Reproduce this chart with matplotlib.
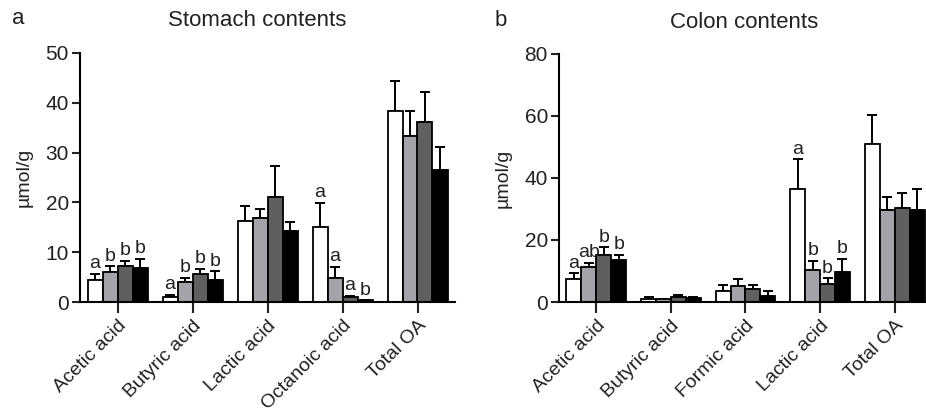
import numpy as np
import matplotlib.pyplot as plt

plt.rcParams['font.family'] = ['Liberation Sans', 'DejaVu Sans']

# Stomach contents
stomach_cats = ["Acetic acid", "Butyric acid", "Lactic acid", "Octanoic acid", "Total OA"]
stomach_mean = [
    [4.5, 1.1, 16.2, 15.0, 38.3],
    [6.0, 4.1, 16.9, 4.9, 33.4],
    [7.2, 5.7, 21.1, 1.1, 36.2],
    [6.8, 4.5, 14.3, 0.4, 26.5],
]
stomach_top = [
    [5.7, 1.5, 19.2, 19.9, 44.4],
    [7.2, 4.9, 18.7, 7.1, 38.3],
    [8.3, 6.7, 27.4, 1.3, 42.1],
    [8.7, 6.2, 16.1, 0.4, 31.2],
]
stomach_letters = [
    ["a", "a", "", "a", ""],
    ["b", "b", "", "a", ""],
    ["b", "b", "", "a", ""],
    ["b", "b", "", "b", ""],
]

# Colon contents
colon_cats = ["Acetic acid", "Butyric acid", "Formic acid", "Lactic acid", "Total OA"]
colon_mean = [
    [7.3, 1.0, 3.5, 36.3, 51.0],
    [11.4, 1.0, 5.3, 10.2, 29.6],
    [15.2, 1.7, 4.2, 5.8, 30.3],
    [13.4, 1.3, 1.9, 9.8, 29.7],
]
colon_top = [
    [9.2, 1.6, 5.4, 46.0, 60.2],
    [12.7, 1.0, 7.3, 13.3, 33.8],
    [17.6, 2.4, 5.4, 7.6, 35.1],
    [15.3, 1.7, 3.7, 13.9, 36.5],
]
colon_letters = [
    ["a", "", "", "a", ""],
    ["ab", "", "", "b", ""],
    ["b", "", "", "b", ""],
    ["b", "", "", "b", ""],
]

colors = ["white", "#a3a3a8", "#5f5f5f", "black"]
txt = "#222222"


def draw(ax, cats, means, tops, letters, ymax, step, pad):
    w = 0.2
    x = np.arange(len(cats))
    for j in range(4):
        pos = x + (j - 1.5) * w
        m = np.array(means[j])
        t = np.array(tops[j])
        err = np.clip(t - m, 0, None)
        ax.bar(pos, m, width=w, color=colors[j], edgecolor="black", linewidth=1.3, zorder=2)
        ax.errorbar(pos, m, yerr=[np.zeros_like(err), err], fmt="none", ecolor="black",
                    elinewidth=1.4, capsize=3.5, capthick=1.4, zorder=1)
        for k in range(len(cats)):
            if letters[j][k]:
                ax.text(pos[k], max(t[k], m[k]) + pad, letters[j][k], ha="center", va="bottom",
                        fontsize=14, color=txt)
    ax.set_ylim(0, ymax)
    ax.set_xlim(-0.5, len(cats) - 0.5)
    ax.set_yticks(np.arange(0, ymax + 1, step))
    ax.set_xticks(x)
    ax.set_xticklabels(cats, rotation=45, ha="right", rotation_mode="anchor", fontsize=14)
    for s in ["top", "right"]:
        ax.spines[s].set_visible(False)
    for s in ["left", "bottom"]:
        ax.spines[s].set_linewidth(1.5)
    ax.tick_params(axis="y", labelsize=15)
    ax.tick_params(axis="both", colors=txt, width=1.5)
    ax.tick_params(axis="y", length=6, pad=2)
    ax.tick_params(axis="x", length=8, pad=3)
    ax.set_ylabel("µmol/g", fontsize=14, color=txt, labelpad=9)


fig = plt.figure(figsize=(9.26, 4.13), dpi=100)
ax1 = fig.add_axes([80 / 926, 1 - 302 / 413, 375 / 926, 249 / 413])
ax2 = fig.add_axes([559 / 926, 1 - 302 / 413, 373 / 926, 248 / 413])

draw(ax1, stomach_cats, stomach_mean, stomach_top, stomach_letters, 50, 10, 0.3)
draw(ax2, colon_cats, colon_mean, colon_top, colon_letters, 80, 20, 0.5)

fig.text(257 / 926, 1 - 20 / 413, "Stomach contents", fontsize=16, color=txt, ha="center", va="center")
fig.text(744 / 926, 1 - 22 / 413, "Colon contents", fontsize=16, color=txt, ha="center", va="center")
fig.text(12 / 926, 1 - 18 / 413, "a", fontsize=16, color=txt, va="center")
fig.text(495 / 926, 1 - 21 / 413, "b", fontsize=16, color=txt, va="center")

fig.savefig("out.png", dpi=100)
